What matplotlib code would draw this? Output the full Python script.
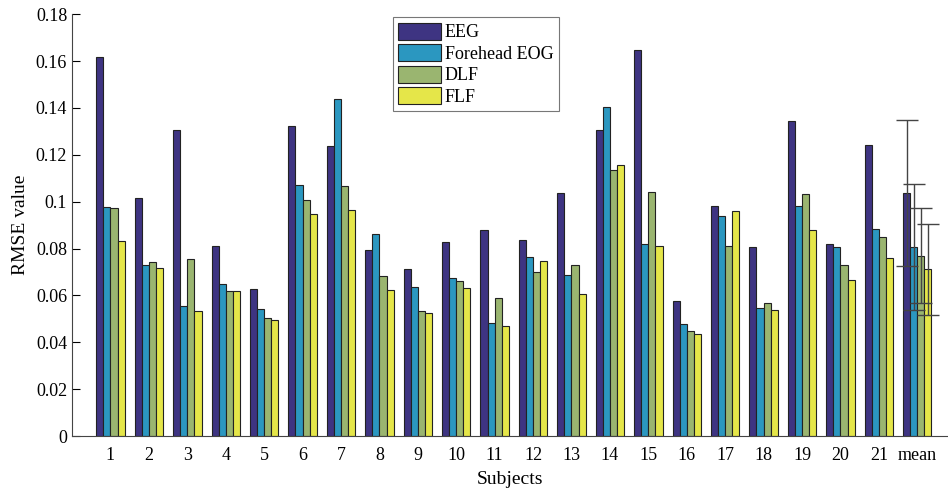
import numpy as np
import matplotlib
matplotlib.use('Agg')
import matplotlib.pyplot as plt

plt.rcParams['font.family'] = ['Liberation Serif', 'DejaVu Serif']

subjects = [str(i) for i in range(1, 22)] + ['mean']
eeg = [0.1618, 0.1014, 0.1307, 0.0810, 0.0627, 0.1324, 0.1237, 0.0796, 0.0712, 0.0827, 0.0879,
       0.0837, 0.1038, 0.1304, 0.1646, 0.0578, 0.0983, 0.0806, 0.1343, 0.0819, 0.1240, 0.1037]
feog = [0.0977, 0.0728, 0.0555, 0.0648, 0.0541, 0.1071, 0.1438, 0.0863, 0.0635, 0.0676, 0.0481,
        0.0763, 0.0686, 0.1404, 0.0820, 0.0478, 0.0938, 0.0547, 0.0981, 0.0806, 0.0884, 0.0806]
dlf = [0.0974, 0.0743, 0.0755, 0.0618, 0.0503, 0.1007, 0.1069, 0.0684, 0.0533, 0.0662, 0.0590,
       0.0701, 0.0732, 0.1134, 0.1041, 0.0447, 0.0810, 0.0570, 0.1031, 0.0728, 0.0849, 0.0770]
flf = [0.0834, 0.0718, 0.0534, 0.0621, 0.0497, 0.0947, 0.0964, 0.0624, 0.0524, 0.0632, 0.0470,
       0.0745, 0.0605, 0.1158, 0.0813, 0.0437, 0.0960, 0.0540, 0.0880, 0.0668, 0.0759, 0.0711]
# std of the mean group
mean_err = [0.0310, 0.0268, 0.0204, 0.0193]

names = ['EEG', 'Forehead EOG', 'DLF', 'FLF']
colors = ['#3e3482', '#2b97c0', '#9ab570', '#e5e649']
series = [eeg, feog, dlf, flf]

fig = plt.figure(figsize=(9.48, 4.90), dpi=100)
ax = fig.add_axes([0.076, 0.110, 0.924, 0.861])

x = np.arange(1, len(subjects) + 1)
w = 0.185
for i, (vals, nm, c) in enumerate(zip(series, names, colors)):
    pos = x + (i - 1.5) * w
    ax.bar(pos, vals, width=w, color=c, edgecolor='#222222', linewidth=0.8, label=nm)
    ax.errorbar(pos[-1], vals[-1], yerr=mean_err[i], fmt='none', ecolor='#444444',
                elinewidth=1.0, capsize=8, capthick=1.0)

ax.set_xlim(0, 22.8)
ax.set_ylim(0, 0.18)
ax.set_yticks(np.arange(0, 0.181, 0.02))
ax.set_yticklabels(['0'] + ['%g' % v for v in np.arange(0.02, 0.181, 0.02)])
ax.set_xticks(x)
ax.set_xticklabels(subjects)
ax.tick_params(axis='y', direction='in', length=6, labelsize=13, width=0.8)
ax.tick_params(axis='x', length=0, labelsize=13, pad=8)
ax.spines['top'].set_visible(False)
ax.spines['right'].set_visible(False)
for s in ['left', 'bottom']:
    ax.spines[s].set_color('#444444')
ax.set_xlabel('Subjects', fontsize=14, labelpad=5)
ax.set_ylabel('RMSE value', fontsize=14, labelpad=5)

leg = ax.legend(loc='upper left', bbox_to_anchor=(0.366, 0.993), fontsize=13,
                frameon=True, fancybox=False, edgecolor='#555555', handlelength=2.4,
                handleheight=1.1, handletextpad=0.2, labelspacing=0.15, borderpad=0.3,
                borderaxespad=0)
leg.get_frame().set_linewidth(0.8)

fig.savefig('out.png', dpi=100)
